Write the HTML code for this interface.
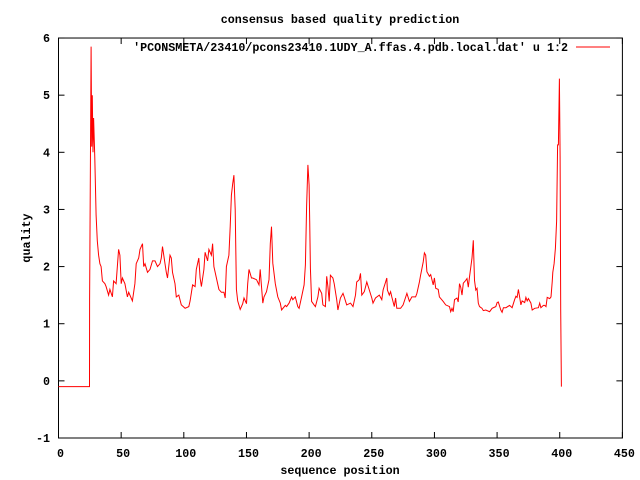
<!DOCTYPE html>
<html><head><meta charset="utf-8"><style>
html,body{margin:0;padding:0;background:#fff;}
svg{display:block;}
text{font-family:"Liberation Mono",monospace;font-weight:bold;font-size:11.7px;fill:#000;}
</style></head><body>
<svg id="chart" width="640" height="480" viewBox="0 0 640 480" xmlns="http://www.w3.org/2000/svg">
<rect x="0" y="0" width="640" height="480" fill="#fff"/>
<text x="340" y="23" text-anchor="middle">consensus based quality prediction</text>
<text x="340" y="474" text-anchor="middle">sequence position</text>
<text x="30" y="238" text-anchor="middle" transform="rotate(-90 30 238)">quality</text>
<g id="axes"></g>
<g id="series"></g>
<g>
<text x="568" y="51" text-anchor="end">'PCONSMETA/23410/pcons23410.1UDY_A.ffas.4.pdb.local.dat' u 1:2</text>
<line x1="576" y1="47" x2="610" y2="47" stroke="#f00" stroke-width="1"/>
</g>
</svg>
<script>
const xTicks = [0,50,100,150,200,250,300,350,400,450];
const yTicks = [-1,0,1,2,3,4,5,6];
const positions = [
0,24.7,24.8,26,26.5,27,27.5,28,29,30,
31,32,33,34,35,37,38,40,41,43,
44,46,48,49,50,51,53,55,56,59,
61,62,64,65,67,68,69,71,73,75,
77,79,81,82,83,85,86,87,89,90,
91,93,94,96,98,101,104,105,107,109,
110,112,113,114,116,117,119,120,122,123,
124,126,128,130,132,133,134,136,137,138,
139,140,141,142,143,145,147,148,150,151,
152,154,155,158,160,161,162,163,164,166,
168,169,170,171,173,175,177,178,181,182,
184,186,187,189,191,192,194,196,197,198,
199,200,200.5,201,202,204,205,207,208,210,
211,213,214,215,216,217,219,220,222,223,
225,227,228,230,233,235,237,238,240,241,
242,244,246,248,250,251,253,256,258,259,
261,262,262.5,264,265,266,268,269,270,273,
275,278,280,282,285,286,288,289,291,292,
293,294,296,297,299,300,301,303,304,307,
309,312,313,314,315,316,318,319,320,321,
322,323,325,326,327,328,330,331,332,333,
334,335,336,338,339,341,344,346,349,350,
351,353,354,355,357,360,362,364,365,366,
367,369,370,372,373,374,375,377,378,380,
383,384,385,387,388,389,390,392,393,394,
394.5,395.5,396.5,397.5,398.3,398.9,399.7,400.3,400.8,401.3];
const quality = [
-0.1,-0.1,1.4,5.85,4.1,5.0,4.0,4.6,3.9,2.9,
2.45,2.2,2.05,2.0,1.75,1.7,1.65,1.5,1.6,1.47,
1.75,1.7,2.3,2.2,1.7,1.8,1.7,1.47,1.55,1.4,
1.7,2.05,2.15,2.3,2.4,2.0,2.05,1.9,1.95,2.1,
2.1,2.0,2.05,2.15,2.35,2.05,1.9,1.8,2.2,2.15,
1.9,1.7,1.47,1.5,1.33,1.27,1.3,1.4,1.68,1.65,
1.95,2.15,1.8,1.65,1.95,2.25,2.1,2.3,2.2,2.4,
2.0,1.8,1.6,1.55,1.55,1.45,2.0,2.2,2.7,3.25,
3.45,3.6,3.0,1.6,1.4,1.25,1.35,1.45,1.35,1.7,
1.95,1.8,1.8,1.77,1.68,1.95,1.65,1.36,1.47,1.56,
1.77,2.4,2.7,2.06,1.7,1.47,1.36,1.24,1.32,1.3,
1.36,1.47,1.42,1.47,1.3,1.27,1.47,1.68,2.03,3.05,
3.78,3.43,2.8,1.97,1.39,1.33,1.3,1.47,1.62,1.53,
1.33,1.3,1.83,1.65,1.39,1.85,1.8,1.7,1.42,1.24,
1.45,1.53,1.47,1.33,1.36,1.3,1.5,1.73,1.77,1.88,
1.5,1.56,1.73,1.59,1.45,1.36,1.45,1.5,1.42,1.59,
1.73,1.8,1.59,1.5,1.56,1.47,1.3,1.45,1.27,1.27,
1.33,1.53,1.39,1.47,1.47,1.53,1.73,1.85,2.08,2.24,
2.2,1.91,1.83,1.86,1.68,1.8,1.62,1.6,1.47,1.39,
1.33,1.3,1.21,1.27,1.21,1.42,1.45,1.38,1.7,1.64,
1.5,1.71,1.76,1.79,1.64,1.82,2.15,2.46,1.76,1.59,
1.62,1.36,1.3,1.27,1.23,1.24,1.21,1.27,1.3,1.37,
1.38,1.24,1.2,1.28,1.28,1.32,1.28,1.42,1.48,1.46,
1.6,1.33,1.4,1.37,1.46,1.4,1.44,1.36,1.24,1.27,
1.28,1.36,1.28,1.32,1.32,1.3,1.46,1.44,1.47,1.73,
1.9,2.05,2.32,2.79,4.13,4.13,5.29,3.93,1.24,-0.1];

const X0 = 58.5, XS = 1.2531, Y0 = 438, YS = 57.14;
function xScale(v){ return X0 + v * XS; }
function yScale(q){ return Y0 - (q + 1) * YS; }
const NS = "http://www.w3.org/2000/svg";
const axes = document.getElementById('axes');
const L = xScale(0), R = xScale(450), T = yScale(6), B = yScale(-1);

const frame = document.createElementNS(NS,'rect');
frame.setAttribute('x', L); frame.setAttribute('y', T);
frame.setAttribute('width', R - L); frame.setAttribute('height', B - T);
frame.setAttribute('fill','none'); frame.setAttribute('stroke','#000'); frame.setAttribute('stroke-width','1');


axes.appendChild(frame);

xTicks.forEach(function(t){
  const x = xScale(t);
  [[B, B-6],[T, T+6]].forEach(function(p){
    const ln = document.createElementNS(NS,'line');
    ln.setAttribute('x1', x); ln.setAttribute('x2', x);
    ln.setAttribute('y1', p[0]); ln.setAttribute('y2', p[1]);
    ln.setAttribute('stroke','#000');
    
    
    axes.appendChild(ln);
  });
  const tx = document.createElementNS(NS,'text');
  tx.setAttribute('x', x + 2); tx.setAttribute('y', 457);
  tx.setAttribute('text-anchor','middle');
  tx.textContent = t;
  
  
  axes.appendChild(tx);
});
yTicks.forEach(function(t){
  const y = yScale(t);
  [[L, L+6],[R, R-6]].forEach(function(p){
    const ln = document.createElementNS(NS,'line');
    ln.setAttribute('x1', p[0]); ln.setAttribute('x2', p[1]);
    ln.setAttribute('y1', y); ln.setAttribute('y2', y);
    ln.setAttribute('stroke','#000');
    
    
    axes.appendChild(ln);
  });
  const tx = document.createElementNS(NS,'text');
  tx.setAttribute('x', 50); tx.setAttribute('y', y + 4);
  tx.setAttribute('text-anchor','end');
  tx.textContent = t;
  
  
  axes.appendChild(tx);
});

const n = Math.min(positions.length, quality.length);
const pts = [];
for (let i = 0; i < n; i++) {
  pts.push(xScale(positions[i]).toFixed(1) + ',' + yScale(quality[i]).toFixed(1));
}
const line = document.createElementNS(NS,'polyline');
line.setAttribute('points', pts.join(' '));
line.setAttribute('fill','none'); line.setAttribute('stroke','#f00'); line.setAttribute('stroke-width','1');


document.getElementById('series').appendChild(line);
</script>
</body></html>
